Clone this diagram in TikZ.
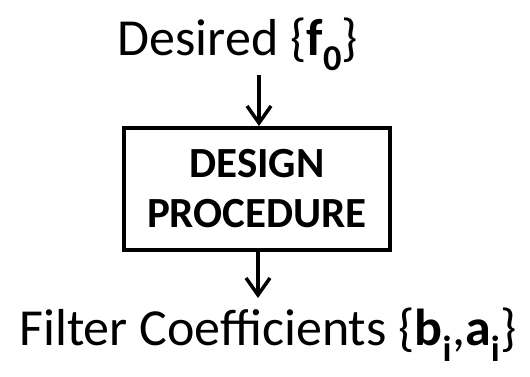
\documentclass[tikz,border=0pt]{standalone}
\usepackage{fontspec}
\setmainfont{Carlito}
\usetikzlibrary{arrows.meta}
\tikzset{
  lbl/.style={inner sep=0pt, anchor=base, font=\fontsize{52}{60}\selectfont},
  procbox/.style={draw, line width=4pt, minimum width=266pt, minimum height=122pt, align=center, font=\bfseries\fontsize{43}{50}\selectfont},
  flow/.style={line width=3.5pt, -{Straight Barb[length=17pt, width=24pt, line width=3.5pt]}}
}
\begin{document}
\begin{tikzpicture}[x=1pt, y=-1pt]
\useasboundingbox (0,0) rectangle (530,376);
\node[lbl] (in) at (238,55) {Desired \{\textbf{f}\textsubscript{\textbf{0}}\}};
\node[procbox] (proc) at (257,189) {DESIGN\\PROCEDURE};
\node[lbl] (out) at (268,345) {Filter Coefficients \{\textbf{b}\textsubscript{\textbf{i}},\textbf{a}\textsubscript{\textbf{i}}\}};
\coordinate (a1) at (259,75);
\coordinate (a2) at (258,298);
\draw[flow] (a1) -- (a1 |- proc.north);
\draw[flow] (proc.south -| a2) -- (a2);
\end{tikzpicture}
\end{document}
